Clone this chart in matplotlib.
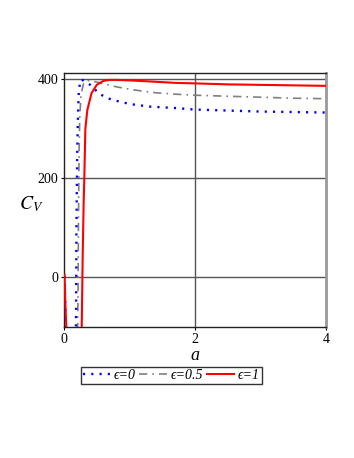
import matplotlib
matplotlib.use("Agg")
import matplotlib.pyplot as plt

# 数据
a_eps0 = [0.178, 0.185, 0.19, 0.2, 0.21, 0.225, 0.245, 0.27, 0.3, 0.4, 0.47, 0.55, 0.69, 0.82,
          0.95, 1.07, 1.19, 1.31, 1.44, 1.71, 2.0, 2.5, 3.0, 3.5, 4.0]
cv_eps0 = [-150, -60, 100, 230, 310, 372, 395, 400, 397, 389, 380, 370, 361, 356,
           352, 349, 347, 345, 344, 342, 339, 337, 335, 334, 333]
a_eps0_left = [0.006, 0.02, 0.032]
cv_eps0_left = [2, -60, -110]

a_eps05 = [0.205, 0.215, 0.22, 0.23, 0.24, 0.26, 0.3, 0.35, 0.45, 0.55, 0.8, 1.05, 1.4, 1.72,
           2.0, 2.5, 3.0, 3.5, 4.0]
cv_eps05 = [-150, -20, 100, 250, 320, 370, 392, 398, 396, 393, 385, 379, 373, 370,
            368, 366, 364, 362, 361]

a_eps1 = [0.265, 0.275, 0.285, 0.3, 0.31, 0.326, 0.356, 0.42, 0.5, 0.6, 0.7, 0.8, 1.0, 1.3,
          1.7, 2.0, 2.5, 3.0, 3.5, 4.0]
cv_eps1 = [-150, -60, 40, 150, 200, 300, 338, 372, 389, 397, 399, 399, 398, 396,
           393, 392, 390, 389, 388, 387]
a_eps1_left = [0.008, 0.02, 0.035]
cv_eps1_left = [5, -50, -100]

labels = ['ϵ=0', 'ϵ=0.5', 'ϵ=1']
x_ticks = [0, 2, 4]
y_ticks = [0, 200, 400]

plt.rcParams['mathtext.fontset'] = 'stix'
serif = ['Liberation Serif', 'DejaVu Serif']

fig = plt.figure(figsize=(3.54, 4.58), dpi=100)
ax = fig.add_axes([64 / 354, 1 - 327 / 458, 262 / 354, 254 / 458])

# 网格线
for y in y_ticks:
    ax.axhline(y, color='#555555', lw=1, zorder=1)
ax.axvline(2, color='#555555', lw=1, zorder=1)

l0, = ax.plot(a_eps0, cv_eps0, color='#0000ff', lw=1.7, ls=(0, (0.9, 2.6)),
              dash_capstyle='butt', zorder=3)
ax.plot(a_eps0_left, cv_eps0_left, color='#0000ff', lw=1.7, ls=(0, (0.9, 2.6)),
        dash_capstyle='butt', zorder=3)
l1, = ax.plot(a_eps05, cv_eps05, color='#808080', lw=1.2, ls=(0, (5, 3, 1, 3)), zorder=2)
l2, = ax.plot(a_eps1, cv_eps1, color='#ff0000', lw=1.5, zorder=4)
ax.plot(a_eps1_left, cv_eps1_left, color='#ff0000', lw=1.5, zorder=4)

ax.set_xlim(0, 4)
ax.set_ylim(-101, 413)
ax.set_xticks(x_ticks)
ax.set_yticks(y_ticks)
ax.tick_params(length=2, width=0.8, labelsize=10, pad=2)
for t in ax.get_xticklabels() + ax.get_yticklabels():
    t.set_family(serif)

for s in ['left', 'top', 'bottom']:
    ax.spines[s].set_color('#222222')
    ax.spines[s].set_linewidth(1)
ax.spines['right'].set_color('#999999')
ax.spines['right'].set_linewidth(2)

fig.text(195 / 354, 1 - 355 / 458, 'a', family=serif, style='italic', fontsize=13,
         ha='center', va='center')
fig.text(31 / 354, 1 - 204 / 458, r'$C_V$', fontsize=14, ha='center', va='center')

fig.legend([l0, l1, l2], labels, loc='center', bbox_to_anchor=(0.484, 0.1795),
           ncol=3, frameon=True, fancybox=False, edgecolor='#333333', framealpha=1,
           prop={'family': serif, 'style': 'italic', 'size': 10},
           handlelength=2.0, handletextpad=0.25, columnspacing=0.25,
           borderpad=0.15, borderaxespad=0)

fig.savefig('out.png', dpi=100)
